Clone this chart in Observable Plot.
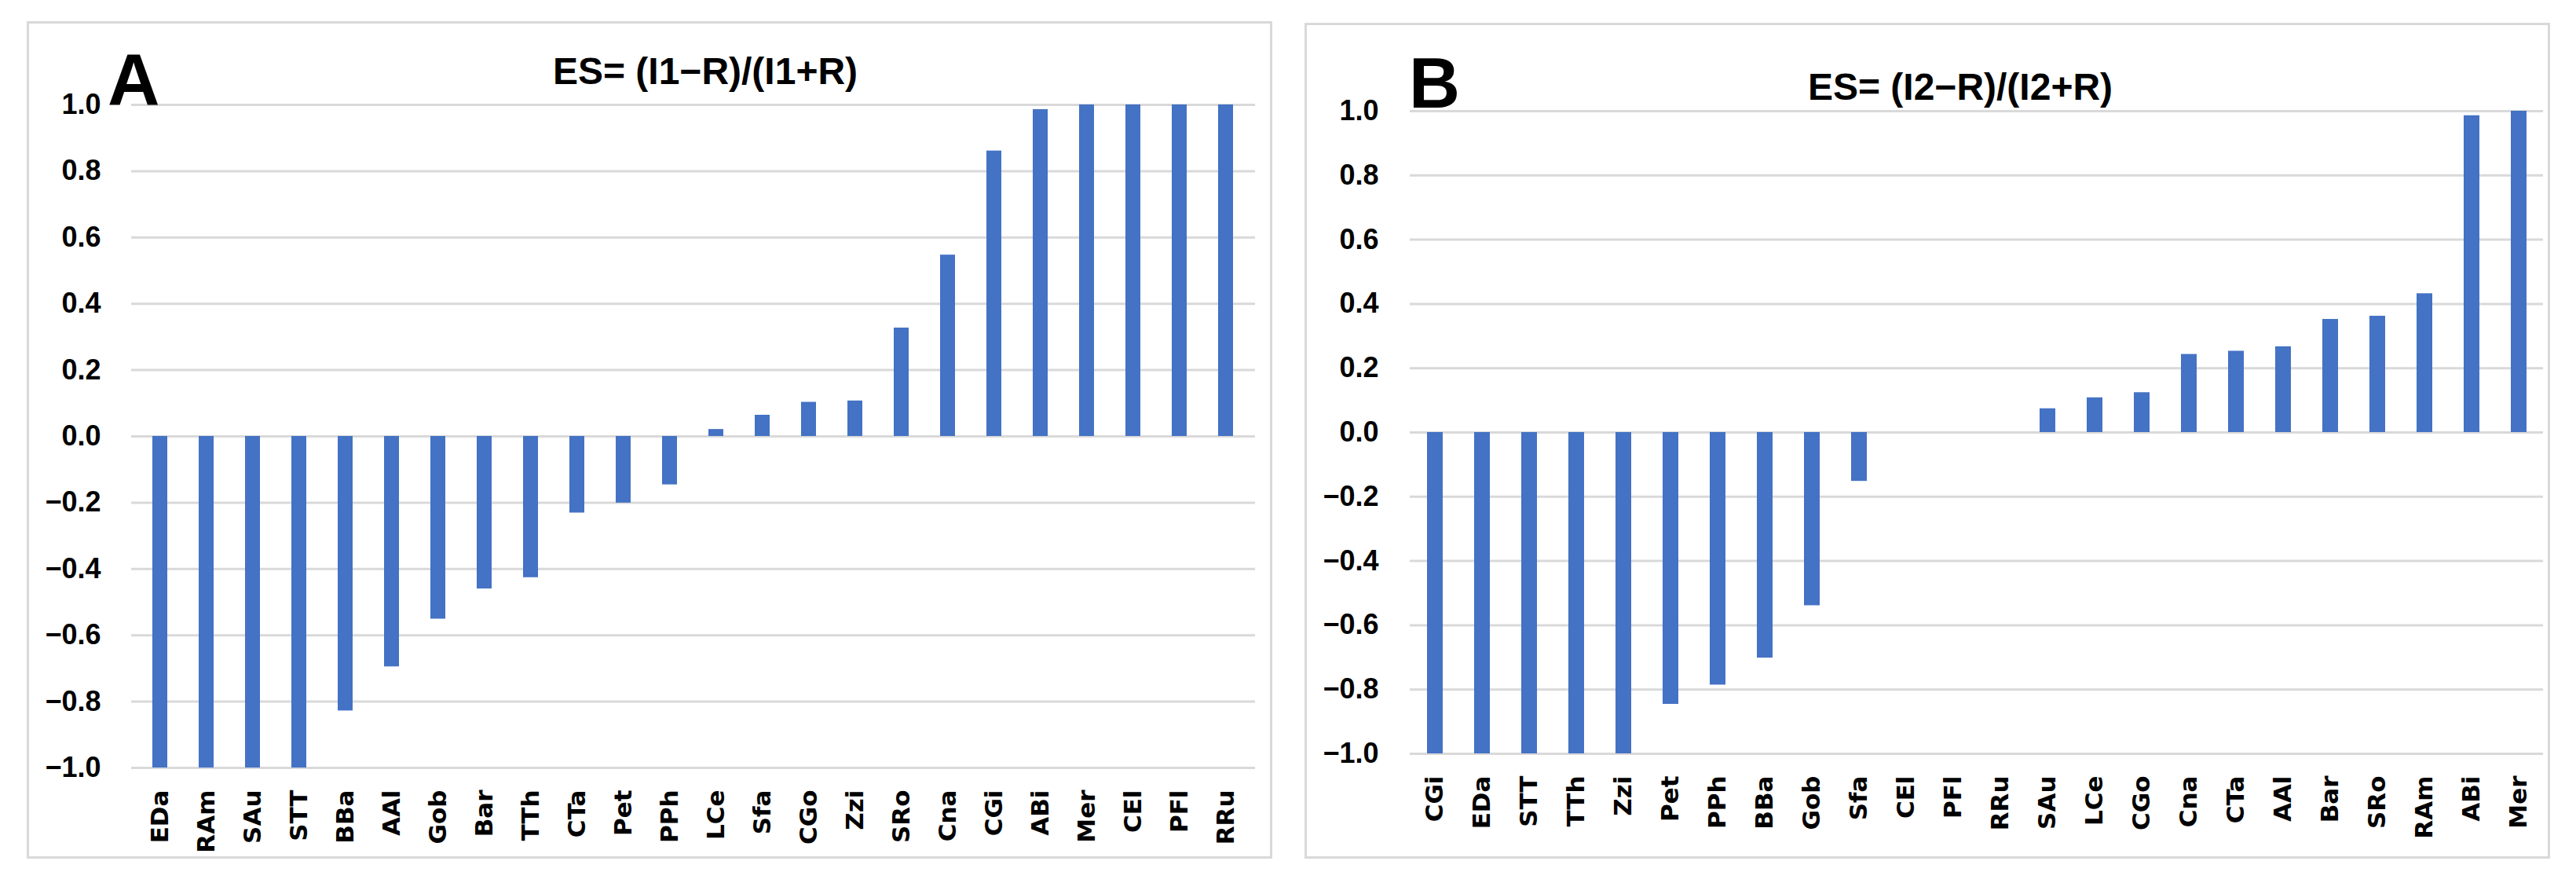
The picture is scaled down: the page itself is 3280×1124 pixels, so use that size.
<!DOCTYPE html>
<html>
<head>
<meta charset="utf-8">
<script src="https://cdn.jsdelivr.net/npm/d3@7"></script>
<script src="https://cdn.jsdelivr.net/npm/@observablehq/plot@0.6"></script>
<style>
  html, body { margin: 0; padding: 0; background: #fff; }
  #page { position: relative; width: 3280px; height: 1124px; overflow: hidden; background: #fff; }
  .frame { position: absolute; box-sizing: border-box; border: 3px solid #d9d9d9; }
  .chart { position: absolute; top: 0; }
  .title { position: absolute; font-family: "Liberation Sans", Arial, sans-serif; font-weight: bold; font-size: 48px; line-height: 1; white-space: nowrap; transform: translateX(-50%); color: #000; }
  .letter { position: absolute; font-family: "Liberation Sans", Arial, sans-serif; font-weight: bold; line-height: 1; color: #000; }
</style>
</head>
<body>
<div id="page">
  <div class="frame" style="left:34px;top:27px;width:1586px;height:1066px;"></div>
  <div class="frame" style="left:1661px;top:29px;width:1586px;height:1064px;"></div>
  <div id="chartA" class="chart" style="left:0px;"></div>
  <div id="chartB" class="chart" style="left:1640px;"></div>
  <div class="letter" style="left:137px;top:55px;font-size:92px;">A</div>
  <div class="letter" style="left:1794px;top:61px;font-size:90px;">B</div>
  <div class="title" style="left:898px;top:67px;">ES= (I1−R)/(I1+R)</div>
  <div class="title" style="left:2496px;top:87px;">ES= (I2−R)/(I2+R)</div>
</div>
<script>
// Panel A data
const catsA = ["EDa","RAm","SAu","STT","BBa","AAl","Gob","Bar","TTh","CTa","Pet","PPh","LCe","Sfa","CGo","Zzi","SRo","Cna","CGi","ABi","Mer","CEl","PFl","RRu"];
const valsA = [-1.0,-1.0,-1.0,-1.0,-0.828,-0.695,-0.551,-0.460,-0.426,-0.231,-0.201,-0.146,0.021,0.064,0.103,0.107,0.327,0.547,0.861,0.986,1.0,1.0,1.0,1.0];

// Panel B data
const catsB = ["CGi","EDa","STT","TTh","Zzi","Pet","PPh","BBa","Gob","Sfa","CEl","PFl","RRu","SAu","LCe","CGo","Cna","CTa","AAl","Bar","SRo","RAm","ABi","Mer"];
const valsB = [-1.0,-1.0,-1.0,-1.0,-1.0,-0.846,-0.786,-0.702,-0.539,-0.152,0,0,0,0.074,0.108,0.124,0.243,0.253,0.267,0.352,0.362,0.432,0.986,1.0];

const yTicks = [-1.0,-0.8,-0.6,-0.4,-0.2,0.0,0.2,0.4,0.6,0.8,1.0];

function panel(cats, vals, m) {
  const data = cats.map((c, i) => ({cat: c, val: vals[i]}));
  return Plot.plot({
    width: 1640,
    height: 1124,
    marginLeft: m.left,
    marginRight: m.right,
    marginTop: m.top,
    marginBottom: m.bottom,
    style: {background: "transparent", overflow: "visible"},
    x: {type: "band", domain: cats, paddingInner: 0.67, paddingOuter: 0.335, align: 0.5, label: null},
    y: {domain: [-1, 1], label: null},
    marks: [
      Plot.ruleY(yTicks, {stroke: "#d9d9d9", strokeWidth: 3}),
      Plot.barY(data, {x: "cat", y: "val", fill: "#4472C4"}),
      Plot.axisY({ticks: yTicks, tickFormat: d3.format(".1f"), tickSize: 0, tickPadding: m.ypad, label: null,
        fontSize: 36, fontWeight: "bold", fontFamily: "Liberation Sans, Arial, sans-serif", fill: "#000"}),
      Plot.axisX({tickRotate: -90, tickSize: 0, tickPadding: 28, label: null,
        fontSize: 31, fontWeight: "bold", fontFamily: "DejaVu Sans, Verdana, sans-serif", fill: "#000"})
    ]
  });
}

document.getElementById("chartA").appendChild(panel(catsA, valsA, {left: 167, right: 42, top: 133, bottom: 147, ypad: 39}));
document.getElementById("chartB").appendChild(panel(catsB, valsB, {left: 155, right: 42, top: 141, bottom: 165, ypad: 40}));
</script>
</body>
</html>
